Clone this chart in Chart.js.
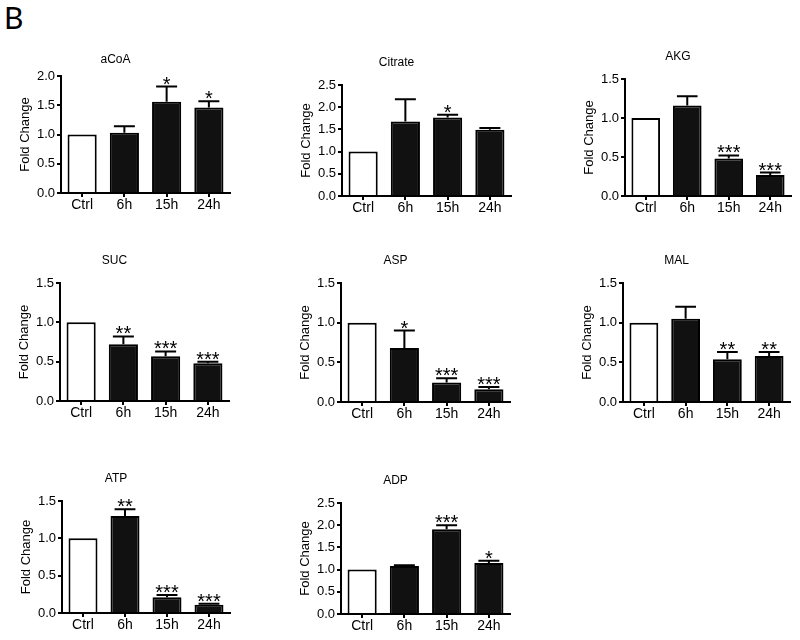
<!DOCTYPE html>
<html>
<head>
<meta charset="utf-8">
<script src="https://cdn.jsdelivr.net/npm/chart.js@4/dist/chart.umd.min.js"></script>
<style>
  html, body { margin: 0; padding: 0; background: #fff; }
  body { width: 800px; height: 640px; position: relative; overflow: hidden; }
  .panel { position: absolute; }
  #label { position: absolute; left: 4px; top: -1px; font: 30px Lato, 'Liberation Sans', sans-serif; color: #000; line-height: 36px; }
</style>
</head>
<body>
<div id="label">B</div>
<script>
// ---------- data ----------
const categories = ['Ctrl', '6h', '15h', '24h'];
const panelTitles = ['aCoA', 'Citrate', 'AKG', 'SUC', 'ASP', 'MAL', 'ATP', 'ADP'];
const yAxisTitle = 'Fold Change';

const aCoAMean    = [1.00, 1.03, 1.56, 1.46];
const aCoASem     = [0, 0.11, 0.26, 0.11];
const aCoASig     = ['', '', '*', '*'];

const citrateMean = [1.00, 1.68, 1.77, 1.49];
const citrateSem  = [0, 0.50, 0.06, 0.04];
const citrateSig  = ['', '', '*', ''];

const akgMean     = [1.00, 1.16, 0.48, 0.27];
const akgSem      = [0, 0.12, 0.04, 0.03];
const akgSig      = ['', '', '***', '***'];

const sucMean     = [1.00, 0.72, 0.57, 0.48];
const sucSem      = [0, 0.10, 0.06, 0.02];
const sucSig      = ['', '**', '***', '***'];

const aspMean     = [1.00, 0.68, 0.245, 0.16];
const aspSem      = [0, 0.22, 0.055, 0.03];
const aspSig      = ['', '*', '***', '***'];

const malMean     = [1.00, 1.05, 0.54, 0.58];
const malSem      = [0, 0.15, 0.09, 0.05];
const malSig      = ['', '', '**', '**'];

const atpMean     = [1.00, 1.30, 0.21, 0.11];
const atpSem      = [0, 0.09, 0.03, 0.015];
const atpSig      = ['', '**', '***', '***'];

const adpMean     = [1.00, 1.08, 1.91, 1.15];
const adpSem      = [0, 0.02, 0.09, 0.05];
const adpSig      = ['', '', '***', '*'];

const yMaxValues  = [2.0, 2.5, 1.5, 1.5, 1.5, 1.5, 1.5, 2.5];
const yStep       = 0.5;

// ---------- layout (pixel geometry of each panel's plot area) ----------
// [left, right, top, bottom, titleCenterY]
const panelBoxes = [
  [61, 230, 76, 193, 60],
  [342, 511, 85, 196, 63],
  [625, 791, 79, 196, 57],
  [60, 229, 283, 401, 261],
  [341, 510, 283, 402, 261],
  [623, 790, 283, 402, 261],
  [62, 230, 501, 613, 479],
  [341, 510, 503, 614, 481]
];

const means = [aCoAMean, citrateMean, akgMean, sucMean, aspMean, malMean, atpMean, adpMean];
const sems  = [aCoASem, citrateSem, akgSem, sucSem, aspSem, malSem, atpSem, adpSem];
const sigs  = [aCoASig, citrateSig, akgSig, sucSig, aspSig, malSig, atpSig, adpSig];

const FONT = "'Liberation Sans', Arial, Helvetica, sans-serif";
Chart.defaults.color = '#000';
Chart.defaults.font.family = FONT;

const Y_W = 60, X_H = 30, RIGHT_PAD = 6;

const errorPlugin = {
  id: 'errStars',
  afterDatasetsDraw(chart, args, opts) {
    const ctx = chart.ctx;
    const meta = chart.getDatasetMeta(0);
    const ys = chart.scales.y;
    const m = opts.mean, s = opts.sem, g = opts.sig;
    ctx.save();
    ctx.strokeStyle = '#000';
    ctx.fillStyle = '#000';
    ctx.lineWidth = 2;
    meta.data.forEach((bar, i) => {
      let topY = ys.getPixelForValue(m[i]);
      if (s[i] > 0) {
        const yTop = ys.getPixelForValue(m[i] + s[i]);
        const capHalf = bar.width * 0.36;
        ctx.beginPath();
        ctx.moveTo(bar.x, topY);
        ctx.lineTo(bar.x, yTop);
        ctx.moveTo(bar.x - capHalf, yTop);
        ctx.lineTo(bar.x + capHalf, yTop);
        ctx.stroke();
        topY = yTop;
      }
      if (g[i]) {
        ctx.font = '20px ' + FONT;
        ctx.textAlign = 'center';
        ctx.textBaseline = 'alphabetic';
        ctx.fillText(g[i], bar.x, topY + 4);
      }
    });
    ctx.restore();
  }
};

panelBoxes.forEach((box, p) => {
  const [L, R, T, B, TY] = box;
  const top = TY - 8;
  const left = L - Y_W;
  const width = (R - L) + Y_W + RIGHT_PAD;
  const height = (B - top) + X_H;
  const titleBottomPad = Math.max(0, (T - top) - 14.4);

  const div = document.createElement('div');
  div.className = 'panel';
  div.style.left = left + 'px';
  div.style.top = top + 'px';
  div.style.width = width + 'px';
  div.style.height = height + 'px';
  const cv = document.createElement('canvas');
  cv.width = width; cv.height = height;
  cv.style.width = width + 'px'; cv.style.height = height + 'px';
  div.appendChild(cv);
  document.body.appendChild(div);

  const mean = means[p];
  new Chart(cv, {
    type: 'bar',
    data: {
      labels: categories,
      datasets: [{
        data: mean,
        backgroundColor: categories.map((c, i) => i === 0 ? '#ffffff' : '#111111'),
        borderColor: '#000000',
        borderWidth: 2,
        borderSkipped: 'bottom',
        categoryPercentage: 1.0,
        barPercentage: 0.69
      }]
    },
    options: {
      responsive: false,
      animation: false,
      devicePixelRatio: 1,
      layout: { padding: { left: 0, right: RIGHT_PAD, top: 0, bottom: 0 } },
      plugins: {
        legend: { display: false },
        tooltip: { enabled: false },
        title: {
          display: true,
          text: panelTitles[p],
          font: { size: 12, weight: 'normal', family: FONT },
          color: '#000',
          padding: { top: 0, bottom: titleBottomPad }
        },
        errStars: { mean: mean, sem: sems[p], sig: sigs[p] }
      },
      scales: {
        x: {
          offset: true,
          grid: { display: true, drawOnChartArea: false, drawTicks: true, tickLength: 4, color: '#000', lineWidth: 2, offset: false },
          border: { display: true, color: '#000', width: 2 },
          ticks: { font: { size: 14, family: FONT }, color: '#000', padding: 0, maxRotation: 0 },
          afterFit(scale) { scale.height = X_H; }
        },
        y: {
          min: 0,
          max: yMaxValues[p],
          grid: { display: true, drawOnChartArea: false, drawTicks: true, tickLength: 4, color: '#000', lineWidth: 2 },
          border: { display: true, color: '#000', width: 2 },
          ticks: {
            stepSize: yStep,
            font: { size: 13, family: FONT },
            color: '#000',
            padding: 2,
            callback: (v) => Number(v).toFixed(1)
          },
          title: {
            display: true,
            text: yAxisTitle,
            font: { size: 13, family: FONT },
            color: '#000',
            padding: { top: 17, bottom: 0 }
          },
          afterFit(scale) { scale.width = Y_W; }
        }
      }
    },
    plugins: [errorPlugin]
  });
});
</script>
</body>
</html>
